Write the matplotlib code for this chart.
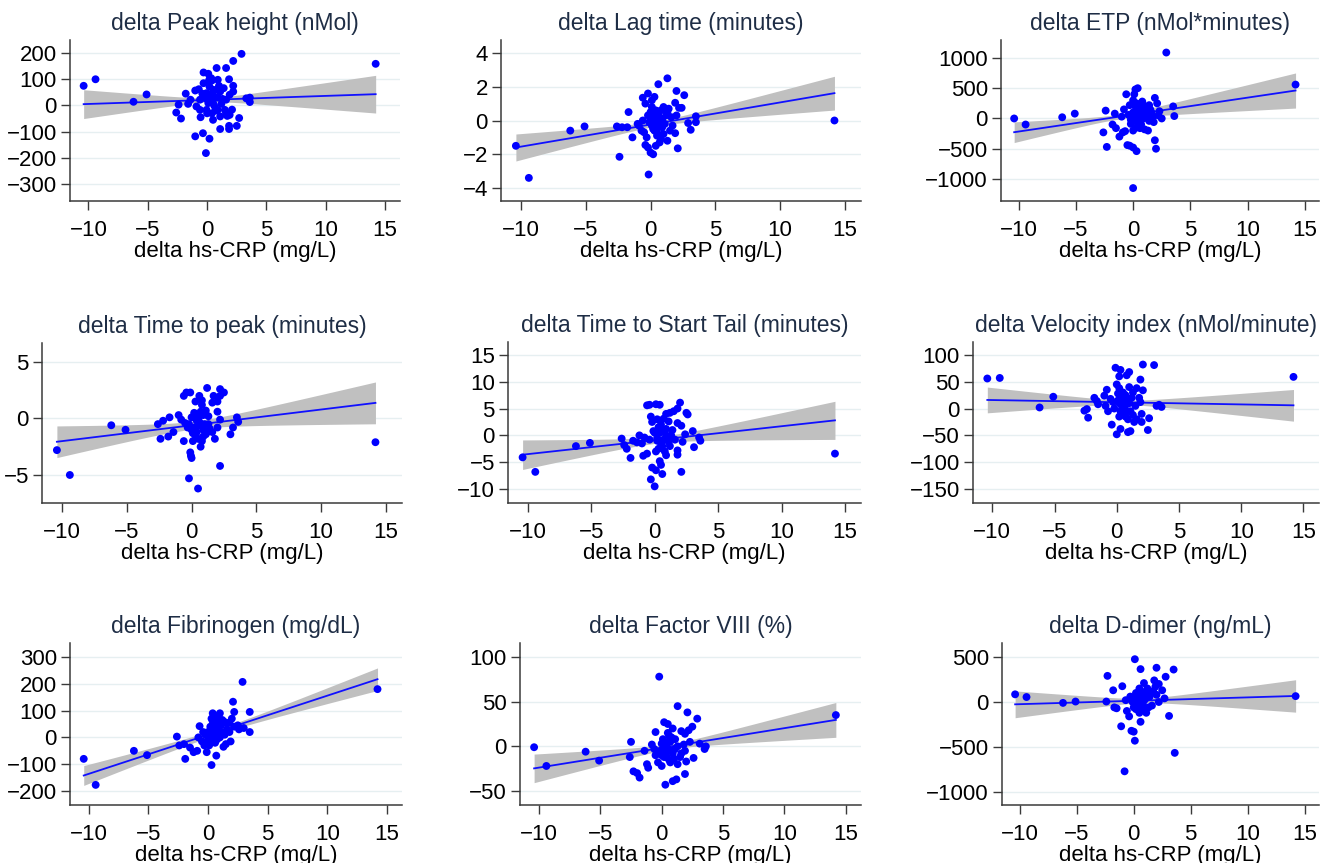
import numpy as np
import matplotlib.pyplot as plt

plt.rcParams['font.family'] = ['Liberation Sans', 'DejaVu Sans']

X_LABEL = "delta hs-CRP (mg/L)"
FIT_X0, FIT_X1 = -10.4, 14.2   # extent of the fitted line (min / max of hs-CRP)

# --- delta Peak height (nMol)
peak_x = [-10.4, -9.4, -6.2, -5.1, 14.2, 2.9, 2.2, 1.6, 1.85, 2.2, 3.3, 3.6, 3.6,
          -2.6, -2.4, -2.2, -1.8, -1.6, -1.4, -1.0, -0.7, -1.0, -0.35, 0.2, -0.1,
          1.1, 1.85, 1.85, 2.5, 2.7, -0.3, 0.1, 0.8, 0.4, 0.9, -0.3, -0.6, -0.6,
          -0.55, -0.9, -0.05, 0.5, 1.1, 1.5, 1.9, 2.1, 1.6, 1.9, 2.2, 1.4, 1.1, 0.6,
          0.2, -0.05, 0.5, 0.2, 0.1, 0.6, 0.9, 1.2, 1.6, -0.2, 0.35, 0.15,
          0.3, 0.5, 0.7, 0.9, 1.0, 0.0, 0.4, 1.3, 0.8, 0.2, 1.7, -0.4]
peak_y = [75, 100, 14, 42, 159, 197, 170, 143, 100, 75, 27, 30, 13,
          -27, 3, -50, 45, 6, 22, 57, 62, -118, -106, -127, -182,
          -90, -90, -78, -78, -48, 126, 121, 143, 95, 98, 85, 22, -17,
          -45, -4, -17, -55, -42, -17, -36, -16, 22, 41, 53, 66, 53, 34,
          22, 47, 60, 72, 9, -1, -17, 6, -29, 28, 104, 92,
          40, 10, -20, 30, 75, -30, -30, 25, 60, 100, -40, 45]

# --- delta Lag time (minutes)
lag_x = [-10.4, -9.4, -6.2, -5.1, 14.2, -2.6, -2.4, -2.2, -1.8, -1.7, -1.4,
         -0.9, -0.7, -0.6, -0.4, -0.2, -0.15, -0.4, -0.2, 0.0, 0.2, 0.1, 0.3,
         0.6, 1.3, 2.0, 1.9, 2.2, 2.4, 2.6, 1.0, 1.4, 2.9, 3.1, 3.5, 3.5, 2.1,
         1.9, 1.3, 0.8, 0.5, 0.3, 0.1, -0.1, 0.2, 0.5, 0.7, 0.9, 1.1, 1.6, 1.7,
         1.2, 0.0, 0.4, 0.6, -0.5, -0.3, 0.8, 1.5, 2.0, -1.0, -0.6,
         0.2, 0.4, 0.6, 0.3, 0.5, 0.1, 0.9, 1.0, 0.7, -0.2, 1.3, 0.4]
lag_y = [-1.5, -3.4, -0.6, -0.35, 0.0, -0.35, -2.15, -0.4, -0.4, 0.5, -1.0,
         -0.3, -0.6, 1.35, 1.0, 1.6, -3.2, -1.45, -1.6, -1.9, -2.0, 1.2, 1.4,
         2.15, 2.5, 1.75, 1.05, 0.75, 0.75, 1.5, 0.8, 0.7, -0.15, -0.55, 0.25, -0.1, -1.65,
         -0.75, -1.2, -1.1, -0.9, -0.6, -0.3, -0.1, 0.2, 0.3, 0.0, -0.4, -0.2, 0.2, -0.3,
         0.3, 0.5, 0.6, -0.4, -0.7, -1.0, 0.6, -0.6, 0.3, -0.2, 0.0,
         -0.5, -0.2, 0.3, 0.0, -0.7, 0.8, 0.1, -0.8, -1.3, 0.3, 0.5, -1.5]

# --- delta ETP (nMol*minutes)
etp_x = [-10.4, -9.4, -6.2, -5.1, 14.2, 2.9, 0.0, -2.6, -2.3, -2.4, -1.8, -1.5,
         -1.6, -1.2, -0.9, -0.7, -0.6, -0.5, -0.3, 0.0, 0.3, -0.4, -0.2, 0.0, 0.1,
         0.2, 0.4, 0.0, 0.3, 0.6, 1.0, 1.3, 1.9, 2.0, 1.9, 2.1, 1.4, 0.8, 1.0, 1.2,
         1.6, 2.2, 2.5, 3.5, 3.6, 0.2, 0.5, 0.7, 0.9, 1.1, 1.4, 1.7, 0.3, 0.6, -0.8,
         -1.0, -0.3, 0.5, 1.8, 2.3, 0.1, 0.9,
         0.4, 0.6, 0.8, 1.0, 0.3, 0.7, 1.2, 0.2, 0.5, 1.5, 0.0, -0.2]
etp_y = [0, -100, 20, 80, 560, 1090, -1150, -230, -470, 130, -100, -160,
         80, -300, -230, -210, 400, -440, -450, -480, -540, 60, -90, 300, 400,
         480, 500, -200, -150, -160, -180, -200, -360, -500, 340, 250, 220, 280, 200, 150,
         100, 50, 0, 200, 40, 100, 120, 50, 0, 60, -40, 20, -50, 200, 150,
         30, 220, -80, -60, 120, 0, 100,
         150, 100, 150, 100, 250, -100, 50, 200, 0, 150, 100, -20]

# --- delta Time to peak (minutes)
ttp_x = [-10.4, -9.4, -6.2, -5.1, 14.2, -2.6, -2.4, -2.2, -1.7, -1.8, -1.4, -1.0,
         -0.8, -0.6, -0.4, -0.1, -0.6, -0.2, -0.1, -0.05, 0.0, 0.5, 0.7, 2.2, 1.2,
         2.2, 2.5, 2.2, 1.7, 2.0, 1.6, 0.6, 0.3, 0.8, 1.1, 1.3, 2.0, 2.2, 2.0, 1.8,
         3.0, 3.2, 3.5, 3.6, 0.0, 0.2, 0.4, 0.6, 0.9, 1.1, 0.3, 0.0, -0.3, 0.5, 0.8,
         1.3, 1.6, -0.5, 0.1, 0.9, 1.4,
         0.2, 0.4, 0.6, 0.3, 0.7, 1.0, 0.1, 0.5, 0.9, 1.2, -0.2, 0.8]
ttp_y = [-2.8, -5.0, -0.6, -1.0, -2.1, -0.5, -1.8, -0.2, 0.1, -1.6, -1.2, 0.3,
         -0.1, 2.0, 2.3, 2.3, -2.0, -5.3, -3.0, -3.3, -3.5, -6.2, -2.5, -4.2, 2.7,
         2.6, 2.3, 2.0, 2.0, 1.5, 1.4, 2.0, 1.5, 1.2, 0.7, 0.2, 0.6, -0.1, -0.8, -1.8,
         -1.4, -0.8, 0.1, -0.3, 0.1, 0.5, -0.2, -0.6, -1.0, -1.4, -1.5, -1.0, -0.8, -1.8, -2.0,
         -0.5, -1.2, -0.4, -2.0, 0.3, -0.9,
         -0.8, -1.2, -0.3, 0.3, 0.6, -0.5, -1.3, 0.0, -1.6, -1.2, -0.5, 1.6]

# --- delta Time to Start Tail (minutes)
tst_x = [-10.4, -9.4, -6.2, -5.1, 14.2, -2.6, -2.4, -2.2, -1.9, -1.7, -1.4, -1.0,
         -0.8, -0.6, -0.4, 0.1, 0.4, -0.9, -0.6, -0.2, -0.3, 0.0, 0.1, 0.5, 0.6, 0.4,
         2.1, 2.0, 1.8, 1.5, 1.2, 0.9, 2.5, 2.6, 1.8, 2.1, 1.1, 0.7, 0.2, -0.3, -0.2,
         0.4, 0.8, 1.3, 1.6, 1.8, 1.8, 0.9, 1.2, 0.5, 0.2, 0.0, -0.4, 0.3, 3.0, 3.1,
         3.5, 3.6, 2.2, 1.0, 0.6, -1.2, 2.4,
         0.2, 0.4, 0.6, 0.3, 0.7, 0.9, 0.1, 0.5, 1.1, 0.8, -0.1, 1.4]
tst_y = [-4.1, -6.8, -2.0, -1.4, -3.4, -0.6, -1.8, -2.5, -4.2, -1.0, -1.3, -1.5,
         -0.4, 5.6, 5.7, 5.8, 5.7, -3.8, -3.4, -6.0, -8.2, -9.5, -6.5, -5.5, -7.2, -4.8,
         -6.8, 6.1, 5.0, 4.5, 4.2, 4.0, 4.2, 3.9, 2.3, 1.8, 2.6, 3.1, 3.0, 3.5, 2.5,
         1.5, 0.5, 0.0, -0.8, -2.8, -3.6, -3.7, -2.0, -1.5, -0.5, 0.5, -0.8, -2.5, 0.8, -2.2,
         -0.4, -1.0, -1.2, -0.2, 1.0, 0.0, 0.2,
         -1.0, 0.5, -2.0, 1.5, -0.8, 1.2, -3.0, 2.0, -1.2, -3.0, 0.8, 1.0]

# --- delta Velocity index (nMol/minute)
vel_x = [-10.4, -9.4, -6.2, -5.1, 14.2, -2.6, -2.4, -2.3, -1.8, -1.6, -1.5, -1.0,
         -0.8, -0.9, -0.7, -0.4, -0.1, 0.3, 0.2, 0.0, 0.2, 0.1, 0.3, 0.5, 0.6, 0.4,
         0.0, 0.3, 1.1, 0.9, 0.7, 1.0, 0.8, 1.3, 1.0, 1.6, 2.1, 3.0, 1.9, 2.1, 1.8,
         1.9, 2.0, 2.0, 1.6, 1.3, 1.1, 2.6, 2.5, 3.2, 3.6, 3.4, 0.9, 0.5, -0.3, -0.2,
         0.7, 1.5, -0.5, 0.2,
         0.4, 0.6, 0.3, 0.8, 0.5, 1.0, 0.2, 0.7, 1.2, 0.1, 0.9, 1.4]
vel_y = [56, 57, 2, 22, 59, -4, -1, -17, 20, 14, 8, 24,
         35, 5, -5, -30, 76, 72, 60, 45, 38, 28, 20, 10, 0, -10,
         -48, -38, -42, -44, -15, 68, 62, 30, 40, 38, 82, 81, 54, 34, 20,
         12, -10, -25, -20, -12, -5, -18, -40, 5, 3, 7, 15, 30, 12, 0,
         25, 5, 18, -15,
         5, 15, -5, 8, 20, 10, 10, -8, 20, 15, -20, -25]

# --- delta Fibrinogen (mg/dL)
fib_x = [-10.4, -9.4, -6.2, -5.1, 14.2, 2.9, 2.1, 2.2, 3.5, 3.5, 3.0, -2.6, -2.4,
         -2.0, -1.9, -1.5, -1.2, -0.9, -0.7, -0.8, -0.5, -0.3, -0.1, 0.1, 0.3, 0.7,
         0.4, 0.8, 1.0, 0.3, 0.5, 0.2, 0.0, 0.6, 1.2, 1.5, 1.8, 2.2, 2.5, 2.6, 1.8,
         1.9, 1.5, 1.3, 1.0, 0.7, 0.4, 1.6, 1.1, 0.2, -0.2, 0.9, 1.4, 2.0, 0.6, -0.4, 0.1,
         0.3, 0.5, 0.7, 0.4, 0.6, 0.9, 0.2, 1.1, 0.8, 0.0, 1.3, 0.5]
fib_y = [-80, -177, -50, -66, 180, 207, 133, 95, 95, 20, 35, 3, -30,
         -25, -80, -38, -55, -50, 42, 0, -15, -30, -55, -30, -103, -68,
         90, 78, 90, 70, 55, 40, 20, 20, 65, 55, 55, 40, 45, 30, 20,
         -15, -25, -35, 0, -10, 0, 30, 45, -10, 10, 25, 10, 70, 65, 20, 5,
         30, 10, 40, 60, -20, 55, -20, 20, -5, -10, 60, 80]

# --- delta Factor VIII (%)
f8_x = [-10.4, -9.4, -6.2, -5.1, 14.2, -0.2, 1.3, 2.1, 2.9, 2.5, 2.2, 1.9, 1.6,
        0.9, 0.5, 0.2, -0.5, -2.5, -2.6, -2.3, -2.0, -1.8, -1.4, -1.2, -1.1, -0.8,
        -0.5, -0.3, 0.0, 0.3, 0.9, 1.2, 1.9, 2.0, 2.6, 1.6, 1.3, 0.8, 0.5, 0.1, -0.1,
        0.4, 0.7, 1.0, 1.8, 1.9, 3.1, 3.5, 3.6, 0.6, 1.1, 0.0, -0.6, 0.3, 1.5, 2.3,
        0.3, 0.5, 0.7, 0.4, 0.6, 0.9, 0.2, 1.1, 0.8, 0.0, 1.3, 0.5]
f8_y = [-1, -22, -6, -16, 35, 78, 45, 38, 31, 22, 18, 14, 17,
        20, 25, 27, 16, 5, -12, -28, -30, -35, -5, -20, -24, 2,
        -10, -18, -22, -43, -39, -37, -31, -17, -13, -8, 0, -5, 5, 8, -5,
        -12, -18, -14, 2, -5, 3, -3, 0, 12, 8, 3, -3, -2, -12, 5,
        -8, -3, 5, 3, -15, -8, -12, -3, 10, -10, -20, 15]

# --- delta D-dimer (ng/mL)
dd_x = [-10.4, -9.4, -6.2, -5.1, 14.2, 0.1, 2.0, 3.5, 0.6, -2.3, 2.8, 1.8, 2.2,
        0.9, -1.0, -1.8, -2.4, -1.7, -1.5, -1.1, -0.6, -0.4, -0.2, 0.0, 0.1, 0.6,
        -0.8, 3.6, 3.1, 1.1, 1.3, 1.6, 2.5, 2.7, 2.0, 1.7, 1.4, 1.0, 0.7, 0.5, 0.2,
        0.0, -0.1, 0.3, 0.5, 0.8, 1.2, 1.9, 0.4, -0.3, 0.9, 2.2, -0.7,
        0.3, 0.5, 0.7, 0.4, 0.6, 0.9, 0.2, 1.1, 0.8, 0.0, 1.3, 0.5]
dd_y = [85, 55, -10, 5, 65, 475, 380, 360, 365, 290, 280, 240, 200,
        210, 175, 130, 5, -60, -70, -270, -100, -160, -320, -330, -430, -220,
        -770, -565, -155, -120, -60, -40, 130, 40, 80, 120, 60, 30, 90, 150, 100,
        50, 0, -50, -90, -20, 150, 170, 20, 60, -70, 0, 20,
        50, -20, 40, -40, 80, 20, -80, 60, 110, -60, 100, -120]

# fitted value at FIT_X0 / FIT_X1, CI half-width at
# FIT_X0 / FIT_X1 and the narrowest CI half-width
fit_left = [5, -1.6, -227, -2.06, -3.6, 16, -142, -24.7, -26]
fit_right = [43, 1.62, 462, 1.38, 2.8, 6, 217, 29.6, 67]
ci_left = [55, 0.8, 171, 1.4, 2.75, 24, 37, 16, 149]
ci_right = [72, 1.0, 290, 1.85, 3.55, 29.5, 42, 19.5, 180]
ci_min = [8, 0.15, 40, 0.35, 0.6, 4, 10, 3, 25]

titles = ["delta Peak height (nMol)", "delta Lag time (minutes)",
          "delta ETP (nMol*minutes)", "delta Time to peak (minutes)",
          "delta Time to Start Tail (minutes)", "delta Velocity index (nMol/minute)",
          "delta Fibrinogen (mg/dL)", "delta Factor VIII (%)", "delta D-dimer (ng/mL)"]
xs = [peak_x, lag_x, etp_x, ttp_x, tst_x, vel_x, fib_x, f8_x, dd_x]
ys = [peak_y, lag_y, etp_y, ttp_y, tst_y, vel_y, fib_y, f8_y, dd_y]
yticks = [[200, 100, 0, -100, -200, -300], [4, 2, 0, -2, -4],
          [1000, 500, 0, -500, -1000], [5, 0, -5], [15, 10, 5, 0, -5, -10],
          [100, 50, 0, -50, -100, -150], [300, 200, 100, 0, -100, -200],
          [100, 50, 0, -50], [500, 0, -500, -1000]]
ylims = [(-365, 250), (-4.77, 4.77), (-1364, 1297), (-7.48, 6.68), (-12.6, 17.4),
         (-176, 124), (-252, 352), (-65.7, 115.7), (-1144, 655)]
xticks = [-10, -5, 0, 5, 10, 15]
xlim = (-11.55, 16.25)

# plot regions in pixels (left, right, top, bottom) of the 1338x863 canvas
boxes = [(70, 400, 40, 201), (501, 861, 40, 201), (1001, 1319, 40, 201),
         (42, 402, 343, 503), (508, 861, 342, 503), (973, 1319, 342, 503),
         (70, 402, 643, 805), (520, 861, 643, 805), (1002, 1319, 643, 805)]

W, H = 1338, 863
fig = plt.figure(figsize=(W / 100, H / 100), dpi=100)

band_x = np.linspace(FIT_X0, FIT_X1, 200)
axis_col = "#3a3a3a"

for i in range(9):
    l, r, t, b = boxes[i]
    ax = fig.add_axes([l / W, 1 - b / H, (r - l) / W, (b - t) / H])

    # linear fit with confidence band
    line = np.interp(band_x, [FIT_X0, FIT_X1], [fit_left[i], fit_right[i]])
    w0, wl, wr = ci_min[i], ci_left[i], ci_right[i]
    ratio = np.sqrt((wr**2 - w0**2) / (wl**2 - w0**2))
    xm = (FIT_X1 + ratio * FIT_X0) / (1 + ratio)
    k = np.sqrt(wr**2 - w0**2) / (FIT_X1 - xm)
    half = np.sqrt(w0**2 + (k * (band_x - xm))**2)
    ax.fill_between(band_x, line - half, line + half, color="#c0c0c0", lw=0, zorder=1)
    ax.plot(band_x, line, color="#1010ff", lw=1.3, zorder=2)
    ax.scatter(xs[i], ys[i], s=32, color="#0000ff", edgecolors="none", zorder=3)

    ax.set_xlim(xlim)
    ax.set_ylim(ylims[i])
    ax.set_xticks(xticks)
    ax.set_yticks(yticks[i])
    for yt in yticks[i]:
        ax.axhline(yt, color="#e6eff1", lw=1.0, zorder=0)

    ax.spines[["top", "right"]].set_visible(False)
    for side in ["left", "bottom"]:
        ax.spines[side].set_color(axis_col)
        ax.spines[side].set_linewidth(1.1)
    ax.tick_params(axis="both", direction="out", length=6.5, width=1.0,
                   color=axis_col, labelsize=16, labelcolor="black")
    ax.tick_params(axis="x", pad=7)
    ax.tick_params(axis="y", pad=3)
    ax.set_title(titles[i], fontsize=16.5, color="#1e2d45", pad=7)
    ax.set_xlabel(X_LABEL, fontsize=16, color="black", labelpad=0)

fig.savefig("out.png", dpi=100)
